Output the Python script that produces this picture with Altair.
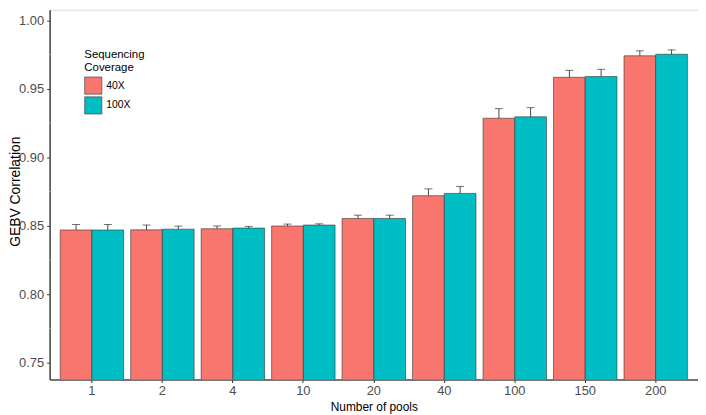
import altair as alt
import pandas as pd

pools = ["1", "2", "4", "10", "20", "40", "100", "150", "200"]
coverages = ["40X", "100X"]
v40 = [0.8469, 0.8470, 0.8478, 0.8498, 0.8553, 0.8719, 0.9285, 0.9584, 0.9741]
v100 = [0.8469, 0.8475, 0.8483, 0.8505, 0.8553, 0.8736, 0.9295, 0.9589, 0.9752]
e40 = [0.0040, 0.0035, 0.0020, 0.0014, 0.0024, 0.0050, 0.0070, 0.0050, 0.0036]
e100 = [0.0040, 0.0022, 0.0012, 0.0009, 0.0024, 0.0051, 0.0067, 0.0053, 0.0032]
colors = ["#F8766D", "#00BFC4"]
y_ticks = [0.75, 0.80, 0.85, 0.90, 0.95, 1.00]
y_minor = [0.775, 0.825, 0.875, 0.925, 0.975]
y_domain = [0.7377, 1.0077]

rows = []
for i, p in enumerate(pools):
    rows.append({"pools": p, "cov": "40X", "value": v40[i], "upper": v40[i] + e40[i]})
    rows.append({"pools": p, "cov": "100X", "value": v100[i], "upper": v100[i] + e100[i]})
df = pd.DataFrame(rows)
minor_df = pd.DataFrame({"m": y_minor})

FONT = "Liberation Sans"

x_enc = alt.X(
    "pools:N", sort=pools,
    scale=alt.Scale(paddingInner=0.1, paddingOuter=0.15),
    axis=alt.Axis(title="Number of pools", labelAngle=0, grid=True, bandPosition=0.5,
                  gridColor="white", gridWidth=1.1, labelFontSize=13, labelColor="#4D4D4D",
                  tickColor="#333333", tickSize=3, domainColor="#4D4D4D", domainWidth=1.6,
                  titleFontSize=12, titleFontWeight="normal", titleColor="black",
                  labelPadding=2, titlePadding=4, labelFont=FONT, titleFont=FONT),
)
xo_enc = alt.XOffset("cov:N", sort=coverages, scale=alt.Scale(paddingInner=0, paddingOuter=0))
y_scale = alt.Scale(domain=y_domain, zero=False, nice=False)
y_axis = alt.Axis(title="GEBV Correlation", values=y_ticks, format=".2f", grid=True,
                  gridColor="white", gridWidth=1.1, labelFontSize=13, labelColor="#4D4D4D",
                  tickColor="#333333", tickSize=3, domainColor="#4D4D4D", domainWidth=1.6,
                  titleFontSize=14, titleFontWeight="normal", titleColor="black",
                  titleX=-30.5, titleY=183, titleAngle=270, titleAlign="center",
                  titleBaseline="alphabetic",
                  labelPadding=3, labelFont=FONT, titleFont=FONT)

minor = alt.Chart(minor_df).mark_rule(color="white", strokeWidth=0.5).encode(
    y=alt.Y("m:Q", scale=y_scale, axis=y_axis)
)

base = alt.Chart(df)
bars = base.mark_bar(stroke="#333333", strokeWidth=0.6, clip=True).encode(
    x=x_enc, xOffset=xo_enc,
    y=alt.Y("value:Q", scale=y_scale, axis=y_axis),
    color=alt.Color("cov:N", sort=coverages,
                    scale=alt.Scale(domain=coverages, range=colors),
                    legend=alt.Legend(title=["Sequencing", "Coverage"], orient="none",
                                      legendX=28, legendY=33, fillColor="white",
                                      padding=7, symbolType="square", symbolSize=300,
                                      symbolStrokeColor="#333333", symbolStrokeWidth=0.6,
                                      rowPadding=0, labelFontSize=10.5, titleFontSize=11.5,
                                      titleLineHeight=13,
                                      titleFontWeight="normal", titleColor="black",
                                      labelColor="black", labelFont=FONT, titleFont=FONT,
                                      titlePadding=3, symbolOpacity=1)),
)
err = base.mark_rule(color="#333333", strokeWidth=0.9).encode(
    x=x_enc, xOffset=xo_enc, y=alt.Y("value:Q"), y2="upper:Q"
)
caps = base.mark_tick(color="#333333", thickness=1, size=8).encode(
    x=x_enc, xOffset=xo_enc, y=alt.Y("upper:Q")
)

chart = alt.layer(minor, bars, err, caps).properties(
    width=654, height=373,
    autosize=alt.AutoSizeParams(type="none"),
    padding={"left": 42, "top": 0, "right": 0, "bottom": 34},
).configure_view(fill="#EBEBEB", strokeWidth=0).configure(font=FONT)

chart.save("out.html", embed_options={"renderer": "svg", "actions": False})
